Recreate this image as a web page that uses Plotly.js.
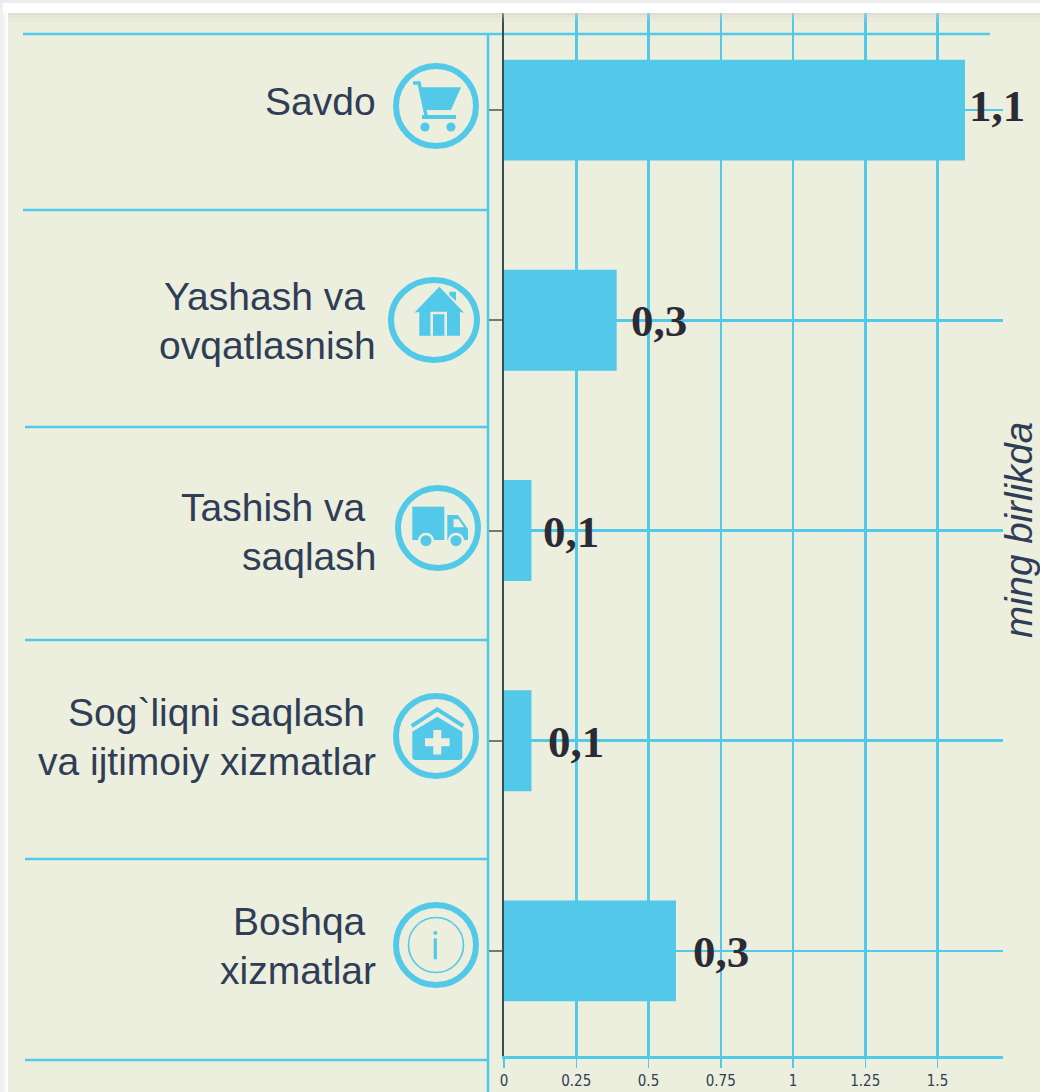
<!DOCTYPE html>
<html>
<head>
<meta charset="utf-8">
<script src="https://cdn.plot.ly/plotly-3.0.1.min.js"></script>
<style>html,body{margin:0;padding:0;background:#fff}#c{width:1040px;height:1092px}</style>
</head>
<body>
<div id="c"></div>
<script>
const categories = ["Savdo", "Yashash va ovqatlasnish", "Tashish va saqlash", "Sog`liqni saqlash va ijtimoiy xizmatlar", "Boshqa xizmatlar"];
const labelLines = [["Savdo"], ["Yashash va\u00A0", "ovqatlasnish"], ["Tashish va\u00A0", "saqlash"], ["Sog`liqni saqlash\u00A0", "va ijtimoiy xizmatlar"], ["Boshqa\u00A0", "xizmatlar"]];
const barLengths = [1.595, 0.39, 0.095, 0.095, 0.595];
const valueLabels = ["1,1", "0,3", "0,1", "0,1", "0,3"];
const xTickVals = [0, 0.25, 0.5, 0.75, 1, 1.25, 1.5];
const xTickText = ["0", "0.25", "0.5", "0.75", "1", "1.25", "1.5"];
const unitLabel = "ming birlikda";

const CY = "#52c9e9", BG = "#eceede", NAVY = "#2f3d56";
const W = 1040, H = 1092, L = 504, R = 37, T = 5, B = 36;
const px = x => (x - L) / (W - L - R);
const py = y => 1 - (y - T) / (H - T - B);

// offsets of decoration relative to the marks
const valueShift = [2, 12, 9.5, 14.5, 15];
const valueLift = [4, -1, -1, -1, -1];
const labelCenters = [[102], [296, 345], [507, 556], [712, 761], [921, 970]];

function line(x0, y0, x1, y1, w) {
  return {type: "line", xref: "paper", yref: "paper", x0: px(x0), x1: px(x1), y0: py(y0), y1: py(y1),
    line: {color: CY, width: w || 2.5}, layer: "below"};
}
function box(x0, y0, x1, y1, c, op) {
  return {type: "rect", xref: "paper", yref: "paper", x0: px(x0), x1: px(x1), y0: py(y0), y1: py(y1),
    fillcolor: c, opacity: op === undefined ? 1 : op, line: {width: 0}, layer: "above"};
}
const shapes = [
  line(23, 34, 990, 34), line(23, 210, 488, 210), line(25, 427, 488, 427),
  line(25, 640, 488, 640), line(25, 859, 488, 859), line(25, 1060, 488, 1060),
  line(488, 34, 488, 1092),
  // page frame
  box(0, 0, 1040, 13, "#ffffff"), box(0, 0, 1040, 3, "#ececec"),
  box(0, 13, 8, 1092, "#ffffff"), box(0, 3, 3, 1092, "#f0f0f0"), box(3, 13, 6, 1092, "#f6f6f6"),
  box(8, 13, 1040, 15, "#cfcfc4", 0.5), box(8, 15, 1040, 18, "#d5d5c8", 0.3), box(8, 18, 1040, 22, "#d5d5c8", 0.12)
];

const ring = (w, h) => `<ellipse cx="${w/2}" cy="${h/2}" rx="${w/2-3}" ry="${h/2-3}" fill="none" stroke="${CY}" stroke-width="6"/>`;
const icons = [
  {x: 393, y: 63, w: 86, h: 86, body: `
    <path d="M20 20h6l7 32" fill="none" stroke="${CY}" stroke-width="3.5"/>
    <path d="M26 24.3H68L58 47H32Z" fill="${CY}"/>
    <path d="M29 54H63" stroke="${CY}" stroke-width="4"/>
    <circle cx="32" cy="64" r="4.6" fill="${CY}"/><circle cx="58" cy="64" r="4.6" fill="${CY}"/>`},
  {x: 388, y: 277, w: 92, h: 86, body: `
    <path d="M61.3 14.7H68V24L61.3 18Z" fill="${CY}"/>
    <path d="M51.3 9.7L76 35.7 72 35V58.7H31.3V35L26.3 35.7Z" fill="${CY}"/>
    <path d="M43.7 58.7V36H57.7V58.7" fill="none" stroke="${BG}" stroke-width="2.6"/>`},
  {x: 395, y: 485, w: 86, h: 86, body: `
    <rect x="17.3" y="21.7" width="32" height="33.3" fill="${CY}"/>
    <path d="M52.3 30H63L73 44V55H52.3Z" fill="${CY}"/>
    <path d="M58.5 34.3H63.5L69 42.3H58.5Z" fill="${BG}"/>
    <circle cx="31" cy="55.7" r="8" fill="${BG}"/><circle cx="31" cy="55.7" r="5.5" fill="${CY}"/>
    <circle cx="61" cy="55.7" r="8" fill="${BG}"/><circle cx="61" cy="55.7" r="5.5" fill="${CY}"/>`},
  {x: 393, y: 693, w: 86, h: 86, body: `
    <path d="M18.7 33L44.3 16.3 70.3 33" fill="none" stroke="${CY}" stroke-width="4"/>
    <path d="M19.3 38.7L44.3 23.7 69.3 38.7V64Q69.3 67 66 67H23Q19.3 67 19.3 64Z" fill="${CY}"/>
    <path d="M40.3 37H48.3V45.3H56.6V53.3H48.3V61.6H40.3V53.3H32V45.3H40.3Z" fill="${BG}"/>`},
  {x: 393, y: 902, w: 86, h: 86, body: `
    <circle cx="43" cy="43" r="27.5" fill="none" stroke="${CY}" stroke-width="1.6"/>
    <circle cx="42.3" cy="31" r="2" fill="${CY}"/>
    <rect x="40.7" y="36.3" width="3.2" height="21" fill="${CY}"/>`}
];
const images = icons.map(ic => ({
  source: "data:image/svg+xml;charset=utf-8," + encodeURIComponent(
    `<svg xmlns="http://www.w3.org/2000/svg" width="${ic.w}" height="${ic.h}" viewBox="0 0 ${ic.w} ${ic.h}">${ring(ic.w, ic.h)}${ic.body}</svg>`),
  xref: "paper", yref: "paper", x: px(ic.x), y: py(ic.y), sizex: ic.w / (W - L - R), sizey: ic.h / (H - T - B),
  xanchor: "left", yanchor: "top", sizing: "stretch", layer: "above"
}));

const annotations = [];
categories.forEach((c, i) => {
  annotations.push({
    x: barLengths[i], y: c, xref: "x", yref: "y", text: valueLabels[i], showarrow: false,
    xanchor: "left", yanchor: "middle", xshift: valueShift[i], yshift: valueLift[i],
    font: {family: "Liberation Serif, serif", size: 45, color: "#2b2b36", weight: 700}
  });
  labelLines[i].forEach((t, j) => {
    annotations.push({
      x: px(378), xref: "paper", y: py(labelCenters[i][j]), yref: "paper", text: t, showarrow: false,
      xanchor: "right", yanchor: "middle", align: "right",
      font: {family: "Liberation Sans, Arial, sans-serif", size: 39, color: NAVY}
    });
  });
});
annotations.push({
  x: px(1019), xref: "paper", y: py(530), yref: "paper", text: unitLabel, showarrow: false, textangle: -90,
  xanchor: "center", yanchor: "middle",
  font: {family: "Liberation Sans, Arial, sans-serif", size: 38.5, color: NAVY, style: "italic"}
});

const trace = {
  type: "bar", orientation: "h", x: barLengths, y: categories, width: 0.48,
  marker: {color: CY, line: {width: 0}}, hoverinfo: "skip"
};
const layout = {
  width: W, height: H, margin: {l: L, r: R, t: T, b: B, pad: 0},
  paper_bgcolor: BG, plot_bgcolor: "rgba(0,0,0,0)", showlegend: false, bargap: 0.52,
  xaxis: {
    range: [0, (W - L - R) / 289], tickmode: "array", tickvals: xTickVals, ticktext: xTickText,
    showgrid: true, gridcolor: CY, gridwidth: 2.5, zeroline: false, showline: true, linecolor: CY, linewidth: 3,
    ticks: "outside", ticklen: 9, tickcolor: CY, tickwidth: 1.5,
    tickfont: {family: "Liberation Sans Narrow, DejaVu Sans Condensed, sans-serif", size: 15, color: NAVY}
  },
  yaxis: {
    type: "category", categoryorder: "array", categoryarray: categories, autorange: false, range: [4.5, -0.5],
    showgrid: true, gridcolor: CY, gridwidth: 2.5, zeroline: false, showline: true, linecolor: "#3c4d52", linewidth: 2,
    ticks: "outside", ticklen: 13, tickcolor: "#77776e", tickwidth: 2, showticklabels: false
  },
  shapes, images, annotations
};
Plotly.newPlot("c", [trace], layout, {displayModeBar: false, staticPlot: true});
</script>
</body>
</html>
